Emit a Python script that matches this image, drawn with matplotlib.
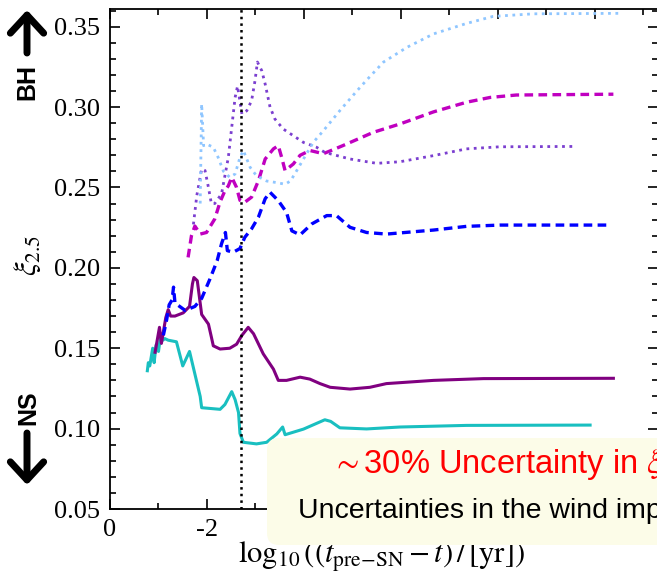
import matplotlib
matplotlib.use("Agg")
import matplotlib.pyplot as plt
from matplotlib.ticker import MultipleLocator, FuncFormatter
from matplotlib.patches import FancyBboxPatch
from matplotlib.transforms import IdentityTransform

plt.rcParams['mathtext.fontset'] = 'stix'
plt.rcParams['font.family'] = ['Liberation Serif', 'DejaVu Serif']

# log10((t_preSN - t)/yr) on x, xi_2.5 on y, one pair of lists per model
cyan_x = [-0.77, -0.79, -0.82, -0.88, -0.91, -0.95, -1.00, -1.05, -1.09, -1.13, -1.20, -1.37,
          -1.50, -1.64, -1.75, -1.86, -1.89, -2.27, -2.37, -2.51, -2.58, -2.65, -2.68, -2.75,
          -3.02, -3.23, -3.44, -3.56, -3.61, -3.99, -4.43, -4.55, -4.74, -5.29, -5.98, -7.35, -9.90]
cyan_y = [0.136, 0.141, 0.139, 0.150, 0.141, 0.152, 0.148, 0.159, 0.155, 0.156, 0.155, 0.154,
          0.139, 0.148, 0.134, 0.120, 0.113, 0.112, 0.115, 0.123, 0.118, 0.110, 0.097, 0.0915,
          0.0905, 0.0915, 0.0967, 0.101, 0.0962, 0.0997, 0.1055, 0.1045, 0.1005, 0.0998, 0.101,
          0.102, 0.1022]

purple_x = [-0.93, -1.02, -1.06, -1.15, -1.20, -1.25, -1.34, -1.51, -1.64, -1.70, -1.73, -1.80,
            -1.89, -2.03, -2.09, -2.13, -2.27, -2.47, -2.61, -2.72, -2.85, -2.96, -3.16, -3.37,
            -3.47, -3.64, -3.92, -4.12, -4.33, -4.54, -4.95, -5.36, -5.70, -6.67, -7.70, -10.38]
purple_y = [0.1475, 0.163, 0.153, 0.169, 0.174, 0.170, 0.170, 0.172, 0.176, 0.190, 0.194, 0.192,
            0.171, 0.165, 0.157, 0.1515, 0.1495, 0.150, 0.1525, 0.158, 0.163, 0.159, 0.1465, 0.137,
            0.130, 0.130, 0.132, 0.1308, 0.128, 0.1257, 0.1246, 0.1257, 0.128, 0.130, 0.1311, 0.1313]

blue_x = [-1.10, -1.17, -1.22, -1.28, -1.31, -1.34, -1.40, -1.55, -1.75, -1.89, -2.06, -2.21,
          -2.30, -2.38, -2.42, -2.54, -2.68, -2.78, -2.92, -3.06, -3.20, -3.30, -3.47, -3.64,
          -3.75, -3.92, -4.16, -4.47, -4.67, -4.95, -5.29, -5.70, -6.67, -7.35, -8.04, -10.30]
blue_y = [0.158, 0.168, 0.177, 0.180, 0.188, 0.178, 0.1768, 0.1735, 0.176, 0.181, 0.193, 0.2045,
          0.215, 0.222, 0.2107, 0.2097, 0.212, 0.219, 0.2243, 0.2315, 0.243, 0.247, 0.2418, 0.2345,
          0.223, 0.2205, 0.2273, 0.2325, 0.2325, 0.2252, 0.222, 0.221, 0.2235, 0.2258, 0.2266, 0.2266]

magenta_x = [-1.61, -1.68, -1.75, -1.86, -1.99, -2.16, -2.27, -2.37, -2.44, -2.51, -2.61, -2.68,
             -2.78, -2.92, -3.06, -3.20, -3.37, -3.47, -3.54, -3.61, -3.78, -3.92, -4.12, -4.40,
             -4.80, -5.43, -5.98, -6.67, -7.35, -7.84, -8.38, -10.38]
magenta_y = [0.2065, 0.220, 0.226, 0.221, 0.222, 0.2304, 0.241, 0.248, 0.251, 0.2563, 0.250, 0.242,
             0.2408, 0.244, 0.2542, 0.2677, 0.274, 0.276, 0.2687, 0.2605, 0.2646, 0.270, 0.273, 0.271,
             0.276, 0.2843, 0.2895, 0.297, 0.303, 0.306, 0.3075, 0.308]

violet_x = [-1.72, -1.79, -1.89, -1.96, -2.03, -2.09, -2.16, -2.30, -2.44, -2.51, -2.58, -2.63,
            -2.72, -2.82, -2.92, -2.99, -3.04, -3.13, -3.20, -3.30, -3.40, -3.57, -3.78, -3.99,
            -4.26, -4.43, -4.95, -5.50, -5.98, -6.67, -7.35, -8.04, -9.55]
violet_y = [0.227, 0.245, 0.2615, 0.2605, 0.250, 0.240, 0.240, 0.246, 0.2687, 0.2874, 0.306, 0.313,
            0.2957, 0.2977, 0.304, 0.3164, 0.328, 0.3226, 0.3143, 0.300, 0.2926, 0.2864, 0.2822, 0.278,
            0.275, 0.2718, 0.2677, 0.265, 0.266, 0.2698, 0.274, 0.2753, 0.2755]

sky_x = [-1.86, -1.89, -1.93, -1.99, -2.13, -2.23, -2.34, -2.47, -2.58, -2.68, -2.75, -2.89,
         -3.02, -3.23, -3.44, -3.61, -3.72, -3.81, -3.99, -4.19, -4.40, -4.74, -5.09, -5.28,
         -5.64, -6.12, -6.67, -7.35, -7.90, -8.73, -10.50]
sky_y = [0.240, 0.302, 0.276, 0.277, 0.275, 0.2687, 0.260, 0.2563, 0.2584, 0.2687, 0.273, 0.2625,
         0.2573, 0.254, 0.253, 0.252, 0.254, 0.2584, 0.2677, 0.278, 0.2853, 0.2978, 0.310, 0.3164,
         0.328, 0.3371, 0.3455, 0.352, 0.3564, 0.358, 0.3583]

t_core = -2.7

W, H = 657, 577
fig = plt.figure(figsize=(W / 100, H / 100), dpi=100)
ax = fig.add_axes([110 / W, (H - 509) / H, (658 - 110) / W, 500 / H])

ax.plot(cyan_x, cyan_y, color='#19bfc0', lw=2.2, zorder=3)
ax.plot(purple_x, purple_y, color='#800080', lw=2.2, zorder=3)
ax.plot(blue_x, blue_y, color='#0000ff', lw=2.4, dashes=(2.6, 1.6), zorder=3)
ax.plot(magenta_x, magenta_y, color='#c000c0', lw=2.4, dashes=(2.6, 1.6), zorder=3)
ax.plot(violet_x, violet_y, color='#7b3fd0', lw=2.0, ls=':', zorder=3)
ax.plot(sky_x, sky_y, color='#8fc6ff', lw=2.0, ls=':', zorder=3)
ax.axvline(t_core, color='k', ls=':', lw=1.8, zorder=4)

ax.set_xlim(0, -11.3)
ax.set_ylim(0.05, 0.361)
ax.xaxis.set_major_locator(MultipleLocator(2))
ax.xaxis.set_minor_locator(MultipleLocator(1))
ax.yaxis.set_major_locator(MultipleLocator(0.05))
ax.yaxis.set_minor_locator(MultipleLocator(0.01))
# labels past -2 sit under the note box
ax.xaxis.set_major_formatter(FuncFormatter(lambda v, p: f"{v:g}" if v > -3 else ""))
ax.yaxis.set_major_formatter(FuncFormatter(lambda v, p: f"{v:.2f}"))
ax.tick_params(which='both', direction='in', top=True, right=True, width=1.2, labelsize=19)
ax.tick_params(which='major', length=7)
ax.tick_params(which='minor', length=4)
ax.tick_params(axis='y', pad=7)
ax.tick_params(axis='x', pad=7)
for s in ax.spines.values():
    s.set_linewidth(1.3)


def fx(px):
    return px / W


def fy(py):
    return (H - py) / H


fig.text(fx(381), fy(563), r"$\log_{10}((t_{\mathrm{pre\!-\!SN}}-t)\,/\,[\mathrm{yr}])$",
         ha='center', va='baseline', fontsize=22)
fig.text(fx(28), fy(255), r"$\xi_{2.5}$", rotation=90, ha='center', va='center', fontsize=22)

# BH / NS side markers
fig.text(fx(27), fy(82), "BH", rotation=90, ha='center', va='center', fontsize=18,
         fontweight='bold', family='Liberation Sans')
fig.text(fx(28), fy(408), "NS", rotation=90, ha='center', va='center', fontsize=18,
         fontweight='bold', family='Liberation Sans')
arrow = dict(arrowstyle='->,head_length=0.65,head_width=0.6', lw=5, color='k',
             shrinkA=0, shrinkB=0, mutation_scale=20, capstyle='round', joinstyle='round')
ax.annotate('', xy=(27, H - 10), xytext=(27, H - 53), xycoords='figure pixels',
            textcoords='figure pixels', arrowprops=arrow, annotation_clip=False)
ax.annotate('', xy=(27, H - 485), xytext=(27, H - 433), xycoords='figure pixels',
            textcoords='figure pixels', arrowprops=arrow, annotation_clip=False)

# note box, runs off the right edge
box = FancyBboxPatch((267, H - 545), 500, 107, boxstyle='round,pad=0,rounding_size=12',
                     transform=IdentityTransform(), facecolor='#fcfce8', edgecolor='none',
                     zorder=10)
fig.patches.append(box)
fig.text(fx(332), fy(473), r"$\sim$30% Uncertainty in $\xi_{2.5}^{\mathrm{BH}}$", color='red',
         fontsize=23.5, family='Liberation Sans', ha='left', va='baseline', zorder=11)
fig.text(fx(298), fy(518), "Uncertainties in the wind implementation", color='black',
         fontsize=20.5, family='Liberation Sans', ha='left', va='baseline', zorder=11)

fig.savefig('out.png', dpi=100)
